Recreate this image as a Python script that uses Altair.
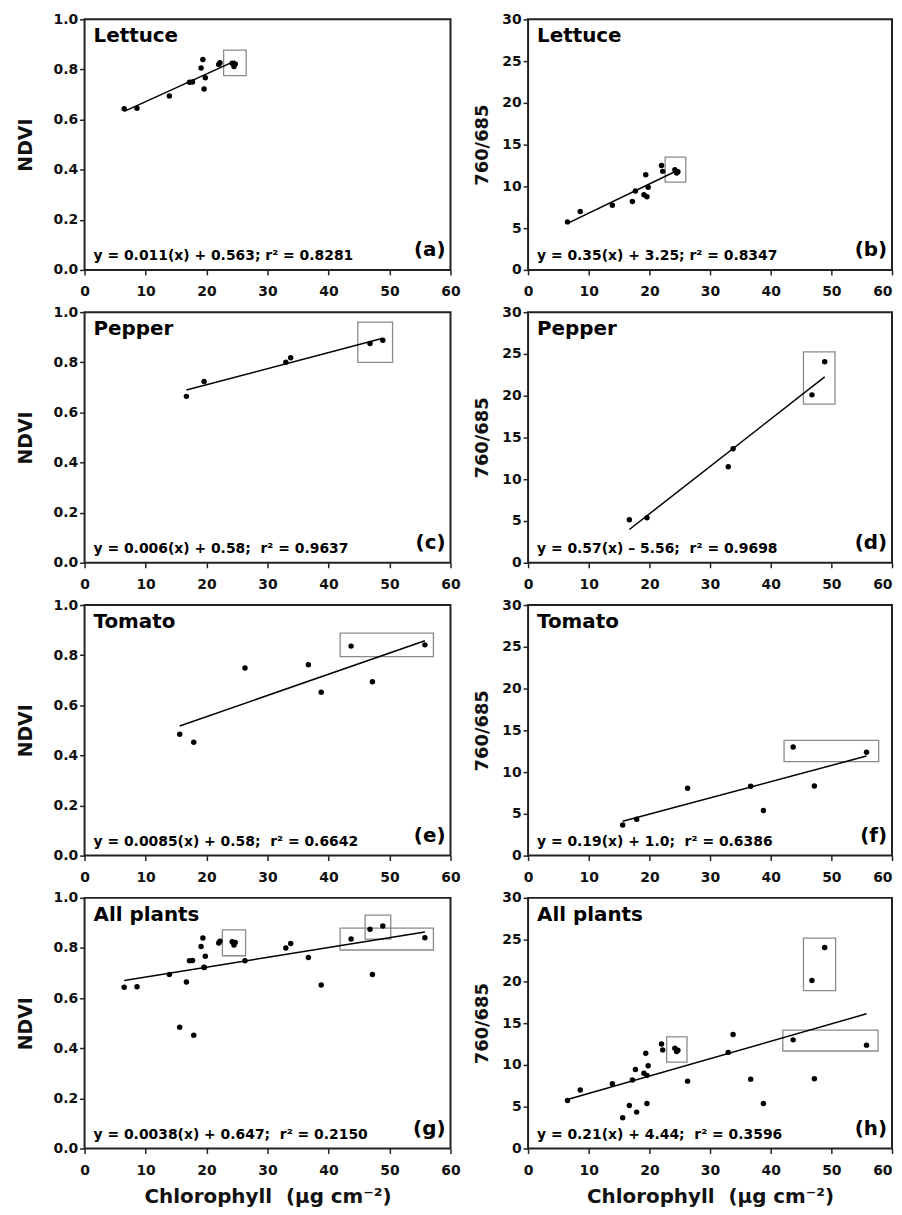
import altair as alt
import pandas as pd

# ---- data ----
lettuce_chl = [6.5, 8.6, 13.9, 17.2, 17.7, 19.1, 19.4, 19.6, 19.8, 22.0, 22.2, 24.2, 24.5, 24.7]
lettuce_ndvi = [0.643, 0.645, 0.694, 0.749, 0.750, 0.806, 0.840, 0.722, 0.767, 0.820, 0.827, 0.825, 0.812, 0.822]
lettuce_ratio = [5.75, 7.0, 7.75, 8.2, 9.45, 9.0, 11.4, 8.75, 9.9, 12.5, 11.8, 12.0, 11.6, 11.75]

pepper_chl = [16.7, 19.6, 33.0, 33.8, 46.8, 48.9]
pepper_ndvi = [0.664, 0.723, 0.800, 0.818, 0.875, 0.888]
pepper_ratio = [5.14, 5.38, 11.5, 13.65, 20.1, 24.06]

tomato_chl = [15.6, 17.9, 26.3, 36.7, 38.8, 43.7, 47.2, 55.8]
tomato_ndvi = [0.484, 0.452, 0.749, 0.762, 0.652, 0.836, 0.694, 0.841]
tomato_ratio = [3.67, 4.35, 8.06, 8.3, 5.39, 13.0, 8.34, 12.37]

panel_names = ["Lettuce", "Lettuce", "Pepper", "Pepper", "Tomato", "Tomato", "All plants", "All plants"]
panel_tags = ["(a)", "(b)", "(c)", "(d)", "(e)", "(f)", "(g)", "(h)"]
NB = "\u00a0"
equations = [
    "y = 0.011(x) + 0.563; r² = 0.8281",
    "y = 0.35(x) + 3.25; r² = 0.8347",
    "y = 0.006(x) + 0.58;" + NB + " r² = 0.9637",
    "y = 0.57(x) – 5.56;" + NB + " r² = 0.9698",
    "y = 0.0085(x) + 0.58;" + NB + " r² = 0.6642",
    "y = 0.19(x) + 1.0;" + NB + " r² = 0.6386",
    "y = 0.0038(x) + 0.647;" + NB + " r² = 0.2150",
    "y = 0.21(x) + 4.44;" + NB + " r² = 0.3596",
]
x_title = "Chlorophyll" + NB + " (µg cm⁻²)"

# highlight boxes: (x1, x2, y1, y2) in data units, per panel
boxes_a = [(22.8, 26.5, 0.775, 0.877)]
boxes_b = [(22.6, 26.0, 10.5, 13.5)]
boxes_c = [(44.8, 50.5, 0.80, 0.96)]
boxes_d = [(45.4, 50.6, 19.0, 25.25)]
boxes_e = [(41.9, 57.2, 0.794, 0.888)]
boxes_f = [(42.2, 57.8, 11.25, 13.8)]
boxes_g = [(22.6, 26.4, 0.769, 0.872), (46.0, 50.2, 0.835, 0.931), (41.9, 57.2, 0.792, 0.879)]
boxes_h = [(22.85, 26.2, 10.33, 13.37), (45.4, 50.7, 18.9, 25.17), (42.0, 57.7, 11.67, 14.17)]

x_ticks = [0, 10, 20, 30, 40, 50, 60]
ndvi_ticks = [0.0, 0.2, 0.4, 0.6, 0.8, 1.0]
ratio_ticks = [0, 5, 10, 15, 20, 25, 30]

FONT = "DejaVu Sans"
W_L, W_R, H = 368, 366, 252


def make_df(chl, vals):
    return pd.DataFrame({"chl": chl, "val": vals})


all_chl = lettuce_chl + pepper_chl + tomato_chl
all_ndvi = lettuce_ndvi + pepper_ndvi + tomato_ndvi
all_ratio = lettuce_ratio + pepper_ratio + tomato_ratio


def panel(df, boxes, idx, is_ndvi, bottom):
    width = W_L if is_ndvi else W_R
    ymax = 1.0 if is_ndvi else 30
    yticks = ndvi_ticks if is_ndvi else ratio_ticks
    xaxis_kw = dict(values=x_ticks, title=x_title if bottom else None,
                    titleFontSize=20, titlePadding=9, labelPadding=10, labelFlush=False)
    if not is_ndvi:
        # the last label of the right column sits at the page edge
        xaxis_kw["labelAlign"] = alt.condition("datum.value == 60", alt.value("right"), alt.value("center"))
    xaxis = alt.Axis(**xaxis_kw)
    yaxis = alt.Axis(values=yticks, format=".1f" if is_ndvi else "d",
                     title="NDVI" if is_ndvi else "760/685",
                     titleFontSize=19 if is_ndvi else 18,
                     titlePadding=18 if is_ndvi else 10, labelPadding=2, labelFlush=False)
    xs = alt.Scale(domain=[0, 60], nice=False)
    ys = alt.Scale(domain=[0, ymax], nice=False)

    base = alt.Chart(df)
    pts = base.mark_circle(size=30, color="black", opacity=1).encode(
        x=alt.X("chl:Q", scale=xs, axis=xaxis),
        y=alt.Y("val:Q", scale=ys, axis=yaxis),
    )
    line = base.transform_regression("chl", "val").mark_line(color="black", strokeWidth=1.5).encode(
        x=alt.X("chl:Q", scale=xs, axis=xaxis),
        y=alt.Y("val:Q", scale=ys, axis=yaxis),
    )
    bdf = pd.DataFrame(boxes, columns=["x1", "x2", "y1", "y2"])
    rects = alt.Chart(bdf).mark_rect(fillOpacity=0, stroke="#8a8a8a", strokeWidth=1.3).encode(
        x=alt.X("x1:Q", scale=xs, axis=xaxis), x2="x2:Q",
        y=alt.Y("y1:Q", scale=ys, axis=yaxis), y2="y2:Q",
    )
    tdf = pd.DataFrame({"name": [panel_names[idx]], "eq": [equations[idx]], "tag": [panel_tags[idx]]})
    tbase = alt.Chart(tdf)
    name_t = tbase.mark_text(align="left", baseline="middle", font=FONT, fontWeight="bold",
                             fontSize=20, color="black").encode(
        text="name:N", x=alt.value(9), y=alt.value(17))
    eq_t = tbase.mark_text(align="left", baseline="middle", font=FONT, fontWeight="bold",
                           fontSize=14, color="black").encode(
        text="eq:N", x=alt.value(9), y=alt.value(H - 14))
    tag_t = tbase.mark_text(align="right", baseline="middle", font=FONT, fontWeight="bold",
                            fontSize=20, color="black").encode(
        text="tag:N", x=alt.value(width - 5), y=alt.value(H - 20))
    return alt.layer(rects, line, pts, name_t, eq_t, tag_t).properties(width=width, height=H)


rows = [
    (make_df(lettuce_chl, lettuce_ndvi), boxes_a, make_df(lettuce_chl, lettuce_ratio), boxes_b),
    (make_df(pepper_chl, pepper_ndvi), boxes_c, make_df(pepper_chl, pepper_ratio), boxes_d),
    (make_df(tomato_chl, tomato_ndvi), boxes_e, make_df(tomato_chl, tomato_ratio), boxes_f),
    (make_df(all_chl, all_ndvi), boxes_g, make_df(all_chl, all_ratio), boxes_h),
]

row_charts = []
for r, (dl, bl, dr, br) in enumerate(rows):
    bottom = r == 3
    left = panel(dl, bl, 2 * r, True, bottom)
    right = panel(dr, br, 2 * r + 1, False, bottom)
    row_charts.append(alt.hconcat(left, right, spacing=11))

chart = alt.vconcat(*row_charts, spacing=4.5).properties(
    padding={"left": 7, "top": 0, "right": 0, "bottom": 0},
    background="white",
).configure_view(
    stroke="#222222", strokeWidth=2
).configure_axis(
    labelFont=FONT, labelFontWeight="bold", labelFontSize=14, labelColor="#111111",
    titleFont=FONT, titleFontWeight="bold", titleColor="#111111",
    tickColor="#222222", tickSize=5, tickWidth=1.5, domain=False, grid=False,
)

chart.save("out.html", embed_options={"renderer": "svg", "actions": False})
